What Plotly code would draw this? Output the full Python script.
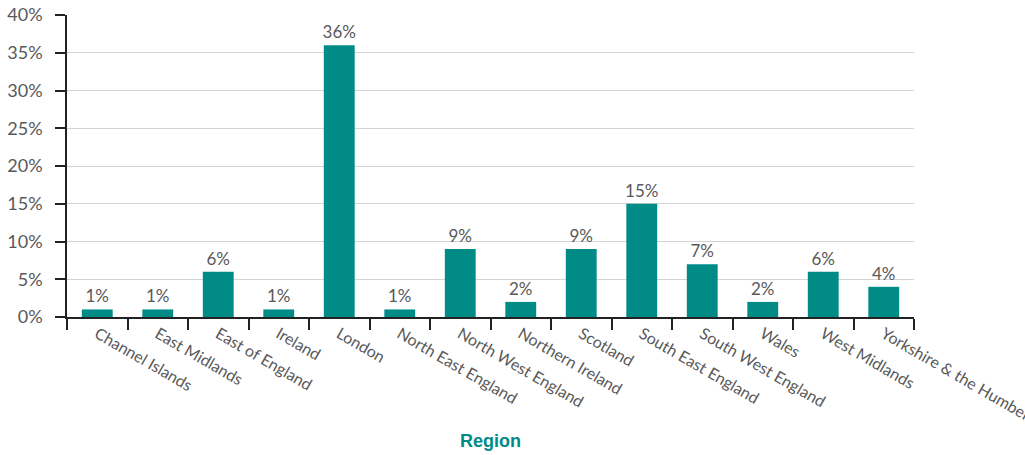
import plotly.graph_objects as go

regions = ["Channel Islands", "East Midlands", "East of England", "Ireland", "London",
           "North East England", "North West England", "Northern Ireland", "Scotland",
           "South East England", "South West England", "Wales", "West Midlands",
           "Yorkshire & the Humber"]
shares = [1, 1, 6, 1, 36, 1, 9, 2, 9, 15, 7, 2, 6, 4]

teal = "#008B87"
grey = "#595959"
font_family = "Lato"

fig = go.Figure(go.Bar(
    x=regions, y=shares,
    marker=dict(color=teal, line=dict(width=0)),
    texttemplate="%{y}", textposition="outside", textangle=0,
    textfont=dict(family=font_family, size=17, color=grey),
    cliponaxis=False,
))

fig.update_layout(
    width=1025, height=455,
    margin=dict(l=67, r=111, t=15, b=138),
    paper_bgcolor="white", plot_bgcolor="white",
    bargap=0.49, showlegend=False,
    uniformtext=dict(minsize=17, mode="show"),
    font=dict(family=font_family, size=17, color=grey),
    xaxis=dict(
        type="category", tickson="boundaries", ticks="outside", ticklen=11,
        tickcolor="#222", tickwidth=1.5, showline=True, linecolor="#222", linewidth=1.5,
        tickangle=30, tickfont=dict(family=font_family, size=16, color=grey),
        showgrid=False, automargin=False,
    ),
    yaxis=dict(
        range=[0, 40], dtick=5, ticksuffix="%", ticks="outside", ticklen=10,
        tickcolor="#222", tickwidth=1.5, showline=True, linecolor="#222", linewidth=1.5,
        showgrid=True, gridcolor="#D4D4D4", gridwidth=1, zeroline=False,
        ticklabelstandoff=9,
        tickfont=dict(family=font_family, size=18, color=grey), automargin=False,
    ),
    annotations=[dict(
        text="<b>Region</b>", xref="paper", yref="paper", x=0.5, y=-0.41,
        xanchor="center", yanchor="middle", showarrow=False,
        font=dict(family="Liberation Sans", size=18, color=teal),
    )],
)

fig.write_html("out.html")
